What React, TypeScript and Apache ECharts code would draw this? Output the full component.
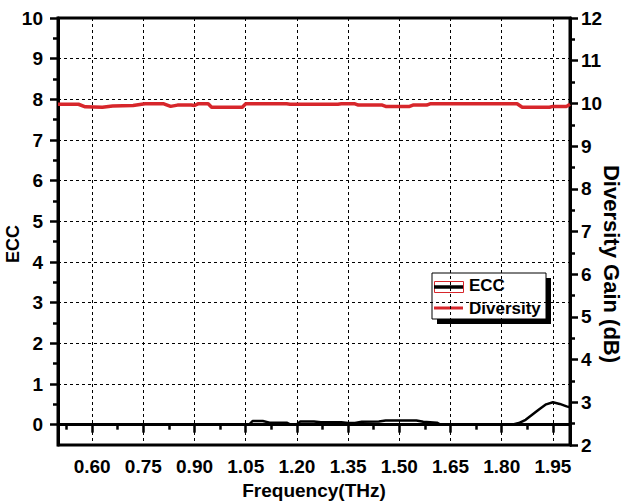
import React, { useEffect, useRef } from "react";
import * as echarts from "echarts";

// ---- data ----
const freqTicks = [0.6, 0.75, 0.9, 1.05, 1.2, 1.35, 1.5, 1.65, 1.8, 1.95];
const freqMinorTicks = [0.525, 0.675, 0.825, 0.975, 1.125, 1.275, 1.425, 1.575, 1.725, 1.875];
const eccTicks = [0, 1, 2, 3, 4, 5, 6, 7, 8, 9, 10];
const eccMinorTicks = [0.5, 1.5, 2.5, 3.5, 4.5, 5.5, 6.5, 7.5, 8.5, 9.5];

const eccFreq = [0.5, 0.8, 1.06, 1.07, 1.1, 1.12, 1.17, 1.18, 1.2, 1.21, 1.25, 1.27, 1.33, 1.35, 1.37, 1.39, 1.44, 1.46, 1.55, 1.57, 1.61, 1.62, 1.83, 1.85, 1.87, 1.89, 1.91, 1.93, 1.95, 1.97, 1.99, 2.0];
const eccValues = [0, 0, 0, 0.09, 0.09, 0.05, 0.05, 0.01, 0.01, 0.08, 0.08, 0.06, 0.06, 0.04, 0.04, 0.07, 0.08, 0.1, 0.1, 0.07, 0.05, 0.0, 0.0, 0.04, 0.12, 0.25, 0.38, 0.5, 0.55, 0.51, 0.45, 0.43];

const divFreq = [0.5, 0.56, 0.58, 0.63, 0.66, 0.72, 0.755, 0.81, 0.83, 0.85, 0.89, 0.9, 0.91, 0.94, 0.95, 1.04, 1.05, 1.17, 1.18, 1.32, 1.33, 1.37, 1.38, 1.45, 1.46, 1.53, 1.54, 1.58, 1.59, 1.845, 1.86, 1.94, 1.95, 1.99, 2.0];
const divValues = [9.98, 9.98, 9.92, 9.91, 9.94, 9.95, 9.99, 9.99, 9.93, 9.96, 9.96, 9.95, 9.99, 9.99, 9.91, 9.91, 9.99, 9.99, 9.98, 9.98, 9.99, 9.99, 9.96, 9.96, 9.93, 9.93, 9.96, 9.96, 9.99, 9.99, 9.91, 9.91, 9.93, 9.93, 9.98];

const FONT = '"Liberation Sans", Arial, sans-serif';
const RED = "#d7262b";

export default function App() {
  const ref = useRef<HTMLDivElement>(null);
  useEffect(() => {
    const chart = echarts.init(ref.current!, null, { renderer: "svg" });
    const dash = { color: "#000", width: 1, type: [3, 3] as any };
    const labelStyle = { color: "#000", fontFamily: FONT, fontWeight: "bold" as const, fontSize: 19 };
    chart.setOption({
      animation: false,
      backgroundColor: "#fff",
      grid: { left: 58, right: 55, top: 18, bottom: 59, show: true, borderColor: "#000", borderWidth: 3, backgroundColor: "transparent" },
      xAxis: [
        {
          type: "value", min: 0.5, max: 2.0, position: "bottom",
          axisLine: { show: true, lineStyle: { color: "#000", width: 3 } },
          axisTick: { show: true, customValues: freqTicks, length: 8, lineStyle: { color: "#000", width: 2.5 } },
          axisLabel: { show: true, customValues: freqTicks, margin: 12, ...labelStyle, formatter: (v: number) => v.toFixed(2) },
          splitLine: { show: true, lineStyle: dash },
        },
        {
          type: "value", min: 0.5, max: 2.0, position: "bottom",
          axisLine: { show: false },
          axisTick: { show: true, customValues: freqMinorTicks, length: 5, lineStyle: { color: "#000", width: 2.5 } },
          axisLabel: { show: false },
          splitLine: { show: false },
        },
      ],
      yAxis: [
        {
          type: "value", min: -0.5, max: 10, position: "left",
          axisLine: { show: true, lineStyle: { color: "#000", width: 3 } },
          axisTick: { show: true, customValues: eccTicks, length: 8, lineStyle: { color: "#000", width: 2.5 } },
          axisLabel: { show: true, customValues: eccTicks, margin: 15, ...labelStyle, formatter: (v: number) => String(v) },
          splitLine: { show: true, lineStyle: dash },
        },
        {
          type: "value", min: 2, max: 12, interval: 1, position: "right",
          axisLine: { show: true, lineStyle: { color: "#000", width: 3 } },
          axisTick: { show: true, length: 8, lineStyle: { color: "#000", width: 2.5 } },
          minorTick: { show: true, splitNumber: 2, length: 5, lineStyle: { color: "#000", width: 2.5 } },
          axisLabel: { show: true, margin: 11, ...labelStyle },
          splitLine: { show: false },
        },
        {
          type: "value", min: -0.5, max: 10, position: "left",
          axisLine: { show: false },
          axisTick: { show: true, customValues: eccMinorTicks, length: 5, lineStyle: { color: "#000", width: 2.5 } },
          axisLabel: { show: false },
          splitLine: { show: false },
        },
      ],
      series: [
        {
          name: "ECC", type: "line", xAxisIndex: 0, yAxisIndex: 0, showSymbol: false,
          lineStyle: { color: "#000", width: 2.5 }, itemStyle: { color: "#000" },
          data: eccFreq.map((f, i) => [f, eccValues[i]]), z: 3,
        },
        {
          name: "Diversity", type: "line", xAxisIndex: 0, yAxisIndex: 1, showSymbol: false,
          lineStyle: { color: RED, width: 3.5 }, itemStyle: { color: RED },
          data: divFreq.map((f, i) => [f, divValues[i]]), z: 3,
        },
      ],
      graphic: [
        { type: "text", x: 13, y: 244, rotation: Math.PI / 2, style: { text: "ECC", font: `bold 18px ${FONT}`, fill: "#000", align: "center", verticalAlign: "middle" } },
        { type: "text", x: 611, y: 264, rotation: -Math.PI / 2, style: { text: "Diversity Gain (dB)", font: `bold 22px ${FONT}`, fill: "#000", align: "center", verticalAlign: "middle" } },
        { type: "text", x: 314, y: 490, style: { text: "Frequency(THz)", font: `bold 19px ${FONT}`, fill: "#000", align: "center", verticalAlign: "middle" } },
        {
          type: "group", z: 100,
          children: [
            { type: "rect", shape: { x: 437, y: 278, width: 114, height: 46 }, style: { fill: "#000" } },
            { type: "rect", shape: { x: 432, y: 273, width: 114, height: 46 }, style: { fill: "#fff", stroke: "#000", lineWidth: 1 } },
            { type: "rect", shape: { x: 434.5, y: 281.5, width: 29, height: 11 }, style: { fill: "#fff", stroke: RED, lineWidth: 1 } },
            { type: "line", shape: { x1: 434, y1: 287, x2: 463, y2: 287 }, style: { stroke: "#000", lineWidth: 3.5 } },
            { type: "text", x: 469, y: 285, style: { text: "ECC", font: `bold 17px ${FONT}`, fill: "#000", verticalAlign: "middle" } },
            { type: "line", shape: { x1: 434, y1: 308, x2: 463, y2: 308 }, style: { stroke: RED, lineWidth: 3 } },
            { type: "text", x: 469, y: 308, style: { text: "Diversity", font: `bold 17px ${FONT}`, fill: "#000", verticalAlign: "middle" } },
          ],
        },
      ],
    });
    return () => chart.dispose();
  }, []);
  return <div ref={ref} style={{ position: "fixed", left: 0, top: 0, width: 625, height: 504 }} />;
}
